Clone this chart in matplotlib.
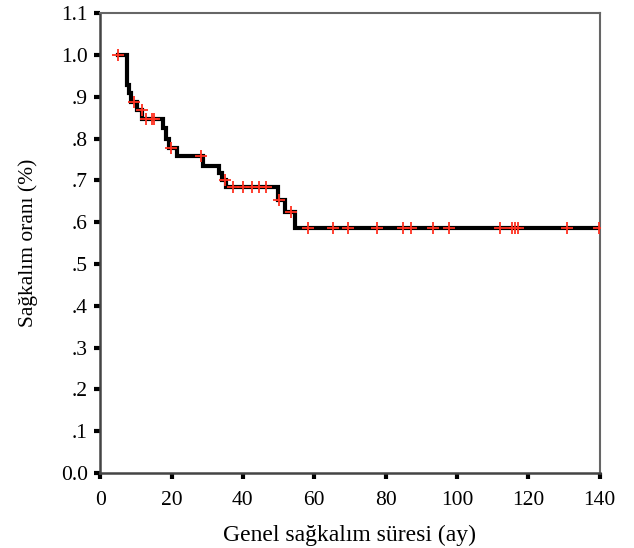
import numpy as np
import matplotlib.pyplot as plt

# Kaplan-Meier genel sagkalim egrisi
step_times = [5, 7.5, 8.1, 8.7, 10.4, 11.8, 17.7, 18.5, 19.2, 21.5, 28.8, 33.2, 34.2, 35.2, 49.8, 51.8, 54.5, 140]
step_surv = [1.0, 0.928, 0.91, 0.888, 0.868, 0.846, 0.825, 0.80, 0.778, 0.758, 0.734, 0.717, 0.70, 0.685, 0.653, 0.625, 0.586, 0.586]
censor_times = [5, 9.5, 11.7, 12.8, 14.6, 15.2, 19.9, 28.3, 35, 37.3, 40, 42.5, 44.6, 46.5,
                50.1, 53.4, 58.2, 65.2, 69.4, 77.6, 84.9, 87.1, 93.2, 97.7,
                112, 115.4, 116.2, 117.1, 130.8, 139.8]

ytick_vals = [0.0, 0.1, 0.2, 0.3, 0.4, 0.5, 0.6, 0.7, 0.8, 0.9, 1.0, 1.1]
ytick_labels = ['0.0', '.1', '.2', '.3', '.4', '.5', '.6', '.7', '.8', '.9', '1.0', '1.1']
xtick_vals = [0, 20, 40, 60, 80, 100, 120, 140]

plt.rcParams['font.family'] = ['Liberation Serif', 'DejaVu Serif']

fig = plt.figure(figsize=(6.34, 5.48), dpi=100)
ax = fig.add_axes([0.158, 0.137, 0.788, 0.839])

ax.step(step_times, step_surv, where='post', color='black', lw=3, solid_joinstyle='miter', zorder=2)

# survival at censor times
idx = np.searchsorted(step_times, censor_times, side='right') - 1
censor_surv = np.array(step_surv)[idx]
ax.plot(censor_times, censor_surv, linestyle='none', marker='+', color='#ff3020',
        markersize=9, markeredgewidth=1.3, zorder=3)

ax.set_xlim(0, 140)
ax.set_ylim(0, 1.1)
ax.set_xticks(xtick_vals)
ax.set_yticks(ytick_vals)
ax.set_yticklabels(ytick_labels)
ax.tick_params(direction='out', length=4, width=3, labelsize=15.5, color='black')
ax.tick_params(axis='x', pad=9)
ax.tick_params(axis='y', pad=5)

for s in ['left', 'bottom']:
    ax.spines[s].set_linewidth(1.8)
    ax.spines[s].set_color('#444444')
for s in ['top', 'right']:
    ax.spines[s].set_linewidth(1.5)
    ax.spines[s].set_color('#666666')

ax.set_xlabel('Genel sağkalım süresi (ay)', fontsize=17, labelpad=11)
ax.set_ylabel('Sağkalım oranı (%)', fontsize=15.5, labelpad=16)

fig.savefig('out.png', dpi=100)
